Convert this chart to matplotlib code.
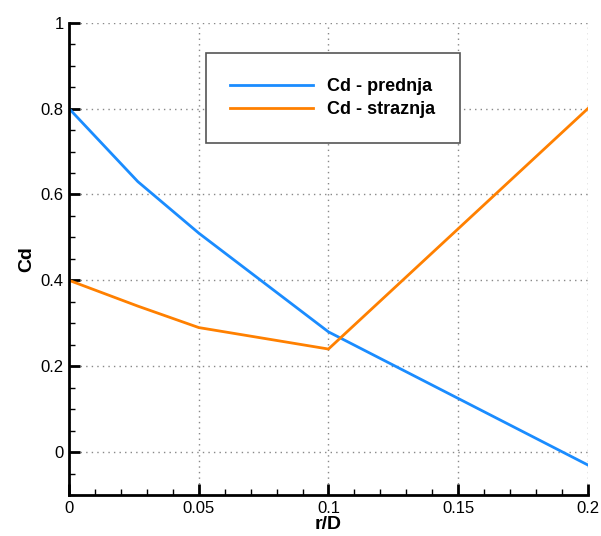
import numpy as np
import matplotlib
matplotlib.use('Agg')
import matplotlib.pyplot as plt
from matplotlib.ticker import MultipleLocator

plt.rcParams['font.family'] = ['Liberation Sans', 'DejaVu Sans']

# data
r_D = [0.0, 0.0265, 0.05, 0.1, 0.2]
cd_prednja = [0.80, 0.63, 0.51, 0.28, -0.03]
cd_straznja = [0.40, 0.34, 0.29, 0.24, 0.80]

fig = plt.figure(figsize=(6.01, 5.36), dpi=100)
ax = fig.add_axes([0.115, 0.0765, 0.863, 0.881])

ax.plot(r_D, cd_prednja, color='#1a8cff', lw=2, label='Cd - prednja')
ax.plot(r_D, cd_straznja, color='#ff8000', lw=2, label='Cd - straznja')

ax.set_xlim(0, 0.2)
ax.set_ylim(-0.1, 1)
ax.set_xticks([0, 0.05, 0.1, 0.15, 0.2])
ax.set_xticklabels(['0', '0.05', '0.1', '0.15', '0.2'])
ax.set_yticks([0, 0.2, 0.4, 0.6, 0.8, 1])
ax.set_yticklabels(['0', '0.2', '0.4', '0.6', '0.8', '1'])
ax.xaxis.set_minor_locator(MultipleLocator(0.01))
ax.yaxis.set_minor_locator(MultipleLocator(0.05))

ax.tick_params(which='major', direction='in', length=8, width=2, labelsize=12, pad=4)
ax.tick_params(which='minor', direction='in', length=4, width=1)

ax.grid(True, which='major', color='#888888', linestyle=(0, (1, 3)), lw=1)
for s in ['top', 'right']:
    ax.spines[s].set_visible(False)
for s in ['left', 'bottom']:
    ax.spines[s].set_linewidth(2)

ax.set_xlabel('r/D', fontsize=14, fontweight='bold', labelpad=0)
ax.set_ylabel('Cd', fontsize=14, fontweight='bold', labelpad=4)

leg = ax.legend(loc='upper left', bbox_to_anchor=(0.263, 0.935), fancybox=False,
                prop={'weight': 'bold', 'size': 13}, handlelength=4.6,
                borderpad=1.35, labelspacing=0.35, handletextpad=0.8,
                borderaxespad=0, framealpha=1)
leg.get_frame().set_edgecolor('#555555')
leg.get_frame().set_linewidth(1.2)

fig.savefig('out.png', dpi=100)
